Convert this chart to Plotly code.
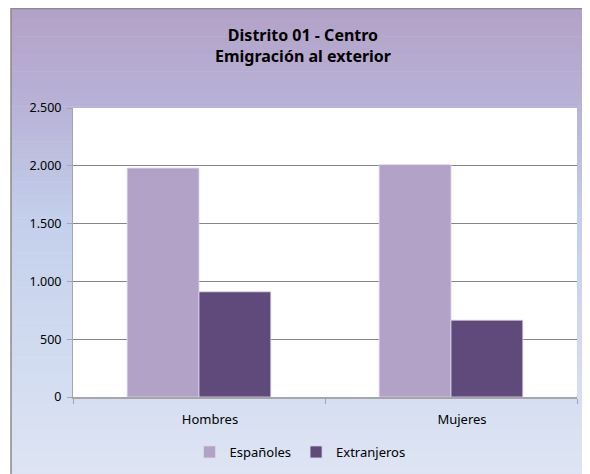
import plotly.graph_objects as go

categories = ["Hombres", "Mujeres"]
espanoles = [1980, 2010]
extranjeros = [910, 665]
series_names = ["Españoles", "Extranjeros"]
title_lines = ["Distrito 01 - Centro", "Emigración al exterior"]
y_ticks = [0, 500, 1000, 1500, 2000, 2500]

# page body has an 8px default margin; work in reference-pixel coordinates
OFF = 8
W, H = 590 - OFF, 474 - OFF
L, R, T, B = 73 - OFF, 13, 108 - OFF, 77
PW, PH = W - L - R, H - T - B

def px_x(px):
    return (px - OFF - L) / PW

def px_y(py):
    return (H - B - (py - OFF)) / PH

stops = [(0.0, (179, 161, 199)), (0.2, (184, 177, 213)), (0.45, (195, 207, 235)),
         (0.7, (207, 218, 240)), (1.0, (222, 228, 243))]

def col(t):
    for i in range(len(stops) - 1):
        a, ca = stops[i]
        b, cb = stops[i + 1]
        if a <= t <= b:
            f = (t - a) / (b - a)
            return "rgb(%d,%d,%d)" % tuple(round(ca[k] + (cb[k] - ca[k]) * f) for k in range(3))
    return "rgb(%d,%d,%d)" % stops[-1][1]

shapes = []
top, bot = 7, 474
n = 80
for i in range(n):
    y0 = top + (bot - top) * i / n
    y1 = top + (bot - top) * (i + 1) / n + 0.6
    shapes.append(dict(type="rect", xref="paper", yref="paper",
                       x0=px_x(11), x1=px_x(600), y0=px_y(y1), y1=px_y(max(y0, 8)),
                       fillcolor=col((i + 0.5) / n), line=dict(width=0), layer="below"))
# white plot area
shapes.append(dict(type="rect", xref="paper", yref="paper", x0=0, x1=1, y0=0, y1=1,
                   fillcolor="white", line=dict(width=0), layer="below"))
# frame border
shapes.append(dict(type="line", xref="paper", yref="paper", x0=px_x(11), x1=px_x(11),
                   y0=px_y(480), y1=px_y(8), line=dict(color="#8a8a8a", width=1.5), layer="below"))
shapes.append(dict(type="line", xref="paper", yref="paper", x0=px_x(11), x1=px_x(600),
                   y0=px_y(8.5), y1=px_y(8.5), line=dict(color="#8a8a8a", width=1.5), layer="below"))

fig = go.Figure()
fig.add_trace(go.Bar(x=categories, y=espanoles, name=series_names[0],
                     marker=dict(color="#b3a2c7", line=dict(color="#ddd6ea", width=0.8))))
fig.add_trace(go.Bar(x=categories, y=extranjeros, name=series_names[1],
                     marker=dict(color="#604a7b", line=dict(color="#ddd6ea", width=0.8))))

fig.update_layout(
    width=W, height=H,
    margin=dict(l=L, r=R, t=T, b=B, pad=0, autoexpand=False),
    paper_bgcolor="white", plot_bgcolor="white",
    font=dict(family="Noto Sans, Open Sans, sans-serif", size=12, color="#000000"),
    separators=",.",
    barmode="group", bargap=0.43, bargroupgap=0,
    shapes=shapes,
    title=dict(text="<b>" + title_lines[0] + "<br>" + title_lines[1] + "</b>",
               xref="container", x=(303 - OFF) / W, xanchor="center",
               yref="container", y=1 - (41 - OFF) / H, yanchor="middle",
               font=dict(family="Noto Sans, Open Sans, sans-serif", size=16, color="#000000")),
    showlegend=True,
    legend=dict(orientation="h", x=px_x(300), xanchor="center",
                yref="container", y=(474 - 452) / H, yanchor="middle",
                font=dict(size=13), bgcolor="rgba(0,0,0,0)", traceorder="normal",
                itemwidth=30),
    xaxis=dict(showgrid=False, showline=True, linecolor="#a6a6a6", linewidth=1.5,
               ticks="outside", tickson="boundaries", ticklen=5, tickcolor="#a6a6a6",
               tickfont=dict(size=13), ticklabelstandoff=10, ticklabelshift=11,
               automargin=False),
    yaxis=dict(range=[0, 2500], tickvals=y_ticks, tickformat=",d",
               showgrid=True, gridcolor="#868686", gridwidth=1,
               showline=True, linecolor="#a6a6a6", linewidth=1,
               ticks="outside", ticklen=5, tickcolor="#a6a6a6",
               tickfont=dict(size=12.5), ticklabelstandoff=3, zeroline=False,
               automargin=False),
)

fig.write_html("out.html")
